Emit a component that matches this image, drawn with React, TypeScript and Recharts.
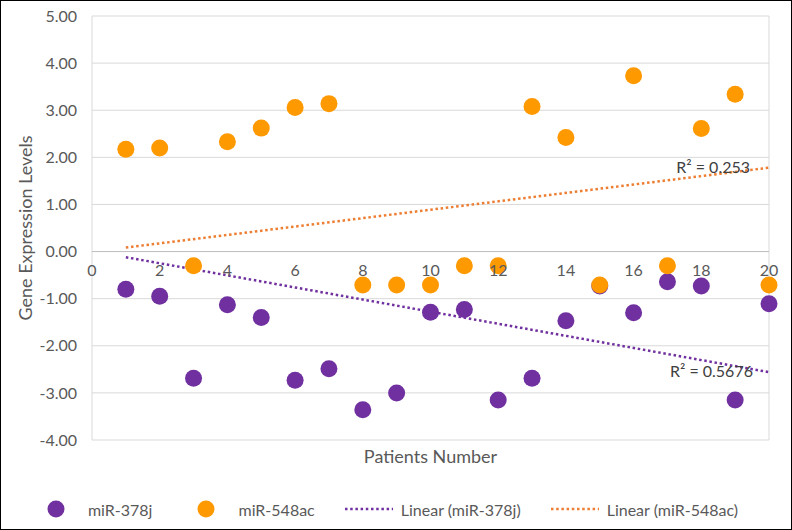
import { ScatterChart, Scatter, XAxis, YAxis, CartesianGrid, ReferenceLine, ReferenceDot, Legend } from "recharts"

const patients = [1, 2, 3, 4, 5, 6, 7, 8, 9, 10, 11, 12, 13, 14, 15, 16, 17, 18, 19, 20]
const mir378j = [-0.8, -0.95, -2.69, -1.13, -1.4, -2.73, -2.49, -3.36, -3.0, -1.29, -1.23, -3.15, -2.69, -1.47, -0.73, -1.3, -0.64, -0.73, -3.15, -1.11]
const mir548ac = [2.17, 2.2, -0.3, 2.33, 2.62, 3.06, 3.14, -0.71, -0.71, -0.71, -0.3, -0.3, 3.08, 2.42, -0.71, 3.73, -0.3, 2.61, 3.34, -0.71]
const xTicks = [0, 2, 4, 6, 8, 10, 12, 14, 16, 18, 20]
const yTicks = [-4, -3, -2, -1, 0, 1, 2, 3, 4, 5]

// trend line ends
const trend378j = [{ x: 1, y: -0.12 }, { x: 20, y: -2.56 }]
const trend548ac = [{ x: 1, y: 0.085 }, { x: 20, y: 1.78 }]
const r2Labels = [
  { x: 18.35, y: 1.78, text: "R² = 0.253" },
  { x: 18.3, y: -2.55, text: "R² = 0.5676" },
]

const PURPLE = "#7030a0"
const ORANGE = "#ff9900"
const ORANGE_LINE = "#ed7d31"
const TEXT = "#595959"
const FONT = "Lato, 'Open Sans', sans-serif"

const data378 = patients.map((p, i) => ({ x: p, y: mir378j[i] }))
const data548 = patients.map((p, i) => ({ x: p, y: mir548ac[i] }))

const legendItems = [
  { name: "miR-378j", color: PURPLE, kind: "dot" },
  { name: "miR-548ac", color: ORANGE, kind: "dot" },
  { name: "Linear (miR-378j)", color: PURPLE, kind: "line" },
  { name: "Linear (miR-548ac)", color: ORANGE_LINE, kind: "line" },
]

const dotShape = (color: string) => (p: any) => <circle cx={p.cx} cy={p.cy} r={8.5} fill={color} />

function ChartLegend() {
  return (
    <div style={{ display: "flex", justifyContent: "center", alignItems: "center", height: 40, fontFamily: FONT, fontSize: 16, color: TEXT }}>
      {legendItems.map((it) => (
        <div key={it.name} style={{ display: "flex", alignItems: "center", margin: "0 15px" }}>
          <svg width={48} height={20}>
            {it.kind === "dot" ? (
              <circle cx={24} cy={10} r={8.5} fill={it.color} />
            ) : (
              <line x1={0} y1={10} x2={48} y2={10} stroke={it.color} strokeWidth={2.5} strokeDasharray="2.5 2.7" />
            )}
          </svg>
          <span style={{ marginLeft: 8 }}>{it.name}</span>
        </div>
      ))}
    </div>
  )
}

export default function App() {
  return (
    <div style={{ width: 792, height: 530, boxSizing: "border-box", border: "1px solid #000", background: "#fff" }}>
      <style>{`body{margin:0}`}</style>
      <ScatterChart width={790} height={528} margin={{ top: 15, right: 22, left: 0, bottom: 0 }}>
        <CartesianGrid stroke="#d9d9d9" strokeWidth={1} />
        <XAxis
          type="number"
          dataKey="x"
          domain={[0, 20]}
          ticks={xTicks}
          tick={false}
          tickLine={false}
          axisLine={false}
          height={49}
          label={{ value: "Patients Number", position: "insideBottom", offset: 26, fill: TEXT, fontSize: 18, fontFamily: FONT }}
        />
        <YAxis
          type="number"
          dataKey="y"
          domain={[-4, 5]}
          ticks={yTicks}
          width={91}
          tickLine={false}
          axisLine={false}
          tickSize={0}
          tickMargin={15}
          tickFormatter={(v: number) => v.toFixed(2)}
          tick={{ fill: TEXT, fontSize: 16, fontFamily: FONT }}
          label={{ value: "Gene Expression Levels", angle: -90, position: "insideLeft", offset: 25, fill: TEXT, fontSize: 18, fontFamily: FONT, style: { textAnchor: "middle" } }}
        />
        <ReferenceLine y={0} stroke="#bfbfbf" strokeWidth={1} />
        <Scatter name="miR-378j" data={data378} fill={PURPLE} shape={dotShape(PURPLE)} isAnimationActive={false} />
        <Scatter name="miR-548ac" data={data548} fill={ORANGE} shape={dotShape(ORANGE)} isAnimationActive={false} />
        <ReferenceLine segment={trend378j} stroke={PURPLE} strokeWidth={2.5} strokeDasharray="2.5 2.7" />
        <ReferenceLine segment={trend548ac} stroke={ORANGE_LINE} strokeWidth={2.5} strokeDasharray="2.5 2.7" />
        {xTicks.map((t) => (
          <ReferenceDot
            key={t}
            x={t}
            y={0}
            r={0}
            stroke="none"
            fill="none"
            label={{ value: String(t), position: "bottom", offset: 13, fill: TEXT, fontSize: 16, fontFamily: FONT }}
          />
        ))}
        {r2Labels.map((l) => (
          <ReferenceDot
            key={l.text}
            x={l.x}
            y={l.y}
            r={0}
            stroke="none"
            fill="none"
            label={{ value: l.text, position: "center", fill: "#404040", fontSize: 16, fontFamily: FONT }}
          />
        ))}
        <Legend verticalAlign="bottom" height={40} content={() => <ChartLegend />} />
      </ScatterChart>
    </div>
  )
}
